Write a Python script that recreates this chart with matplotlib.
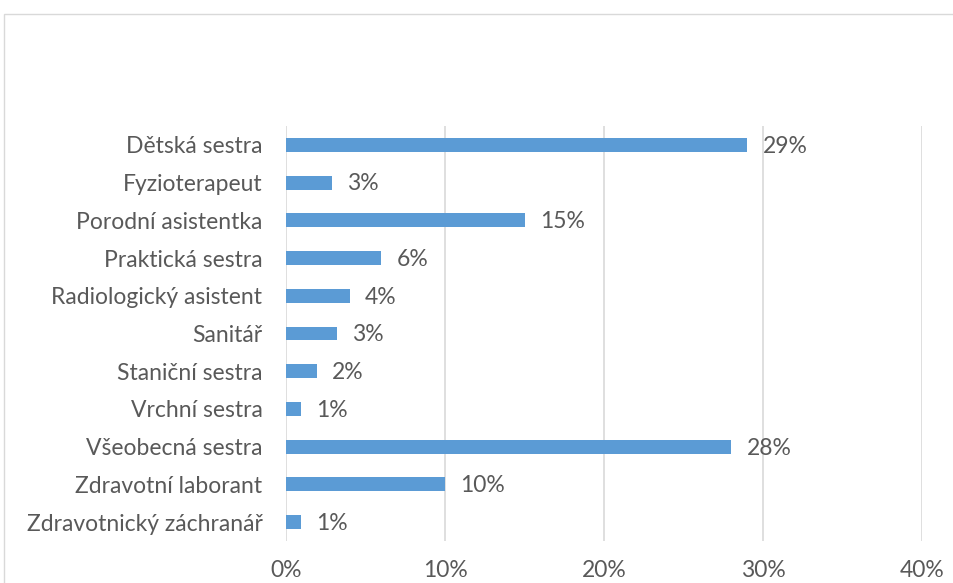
import matplotlib

matplotlib.use("Agg")
import matplotlib.patches as patches
import matplotlib.pyplot as plt
from matplotlib.ticker import FuncFormatter

categories = [
    "Dětská sestra",
    "Fyzioterapeut",
    "Porodní asistentka",
    "Praktická sestra",
    "Radiologický asistent",
    "Sanitář",
    "Staniční sestra",
    "Vrchní sestra",
    "Všeobecná sestra",
    "Zdravotní laborant",
    "Zdravotnický záchranář",
]
shares = [29.0, 2.9, 15.0, 6.0, 4.0, 3.2, 1.95, 0.95, 28.0, 10.0, 0.95]
xticks = [0, 10, 20, 30, 40]

BAR_C = "#5B9BD5"
TEXT_C = "#595959"
GRID_C = "#D9D9D9"
FS = 16.5

plt.rcParams["font.family"] = ["Lato", "DejaVu Sans"]

fig = plt.figure(figsize=(9.54, 5.83), dpi=100)
W, H = 954, 583

# light chart-area border, cut off on right and bottom
fig.patches.append(
    patches.Rectangle(
        (4 / W, -0.1), 1.2, 1 - 14 / H + 0.1,
        transform=fig.transFigure, fill=False, edgecolor="#D9D9D9", lw=1.0,
    )
)

ax = fig.add_axes([286 / W, 1 - 541 / H, (922 - 286) / W, (541 - 126) / H])
ypos = list(range(len(categories)))
ax.barh(ypos, shares, height=0.37, color=BAR_C, zorder=3)
ax.set_ylim(len(categories) - 0.5, -0.5)
ax.set_xlim(0, 40)
ax.set_xticks(xticks)
ax.xaxis.set_major_formatter(FuncFormatter(lambda v, _: f"{v:.0f}%"))
ax.set_yticks(ypos)
ax.set_yticklabels(categories)
ax.tick_params(axis="both", length=0, labelsize=FS, colors=TEXT_C)
ax.tick_params(axis="x", pad=14)
ax.tick_params(axis="y", pad=17)
ax.grid(axis="x", color=GRID_C, lw=1.2, zorder=0)
for s in ax.spines.values():
    s.set_visible(False)

for y, v in zip(ypos, shares):
    ax.annotate(
        f"{v:.0f}%", (v, y), xytext=(11, -1), textcoords="offset points",
        ha="left", va="center", fontsize=FS, color=TEXT_C,
    )

fig.savefig("out.png", dpi=100)
